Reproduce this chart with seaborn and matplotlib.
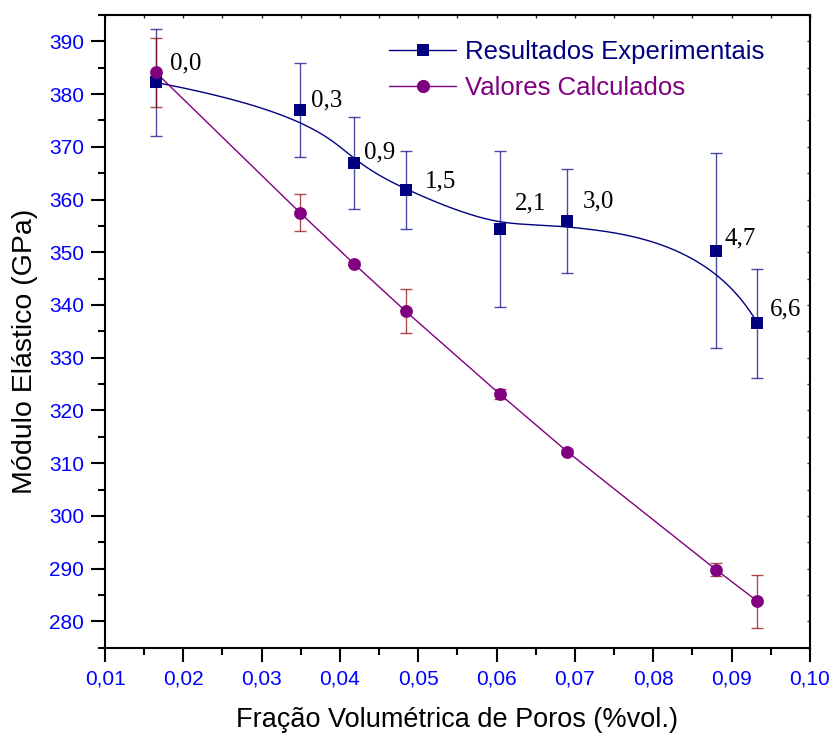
import numpy as np
import pandas as pd
import matplotlib
matplotlib.use('Agg')
import matplotlib.pyplot as plt
import seaborn as sns
from matplotlib.lines import Line2D
from matplotlib.ticker import MultipleLocator, FuncFormatter

# dados
porosidade = [0.0165, 0.0349, 0.0418, 0.0484, 0.0604, 0.0690, 0.0880, 0.0933]
rotulos = ['0,0', '0,3', '0,9', '1,5', '2,1', '3,0', '4,7', '6,6']
exp_modulo = [382.2, 377.0, 366.9, 361.8, 354.5, 355.9, 350.3, 336.5]
exp_erro = [10.2, 8.9, 8.7, 7.4, 14.8, 9.9, 18.5, 10.4]
calc_modulo = [384.1, 357.5, 347.8, 338.8, 323.1, 312.2, 289.8, 283.8]
calc_erro = [6.6, 3.5, 0.5, 4.2, 1.0, 0.5, 1.2, 5.0]

# deslocamento (pontos) dos rotulos em relacao aos pontos experimentais
rot_offset = [(10, 14), (8, 7), (7, 8), (14, 6), (11, 18), (11, 14), (6, 9), (9, 10)]

AZUL = '#000080'
ROXO = '#800080'


def bspline(px, py, n=400, k=3):
    # curva B-spline (como o "B-Spline" do Origin), pontos como controle
    m = len(px)
    knots = np.concatenate([np.zeros(k), np.arange(m - k + 1), np.full(k, m - k)]).astype(float)
    t = np.linspace(0, m - k, n)
    nb = len(knots) - 1
    N = np.zeros((n, nb))
    for i in range(nb):
        N[:, i] = (knots[i] <= t) & (t < knots[i + 1])
    last = np.where(knots[:-1] < knots[1:])[0][-1]
    N[t == knots[-1], last] = 1
    for d in range(1, k + 1):
        Nn = np.zeros((n, nb - d))
        for i in range(nb - d):
            a = knots[i + d] - knots[i]
            b = knots[i + d + 1] - knots[i + 1]
            left = (t - knots[i]) / a * N[:, i] if a > 0 else 0
            right = (knots[i + d + 1] - t) / b * N[:, i + 1] if b > 0 else 0
            Nn[:, i] = left + right
        N = Nn
    return N @ np.asarray(px), N @ np.asarray(py)


sns.set_theme(style='ticks')
plt.rcParams['font.family'] = ['Liberation Sans', 'DejaVu Sans']

fig, ax = plt.subplots(figsize=(8.34, 7.36), dpi=100)
fig.subplots_adjust(left=0.1259, right=0.9712, bottom=0.12, top=0.9796)

# curva suavizada dos resultados experimentais
sx, sy = bspline(porosidade, exp_modulo)
sns.lineplot(x=sx, y=sy, sort=False, estimator=None, color=AZUL, lw=1, ax=ax, zorder=3)
# linha dos valores calculados
sns.lineplot(x=porosidade, y=calc_modulo, sort=False, estimator=None, color=ROXO, lw=1, ax=ax, zorder=3)

ax.errorbar(porosidade, exp_modulo, yerr=exp_erro, fmt='none', ecolor=AZUL, alpha=0.7,
            elinewidth=1, capsize=4.5, capthick=1, zorder=2)
ax.errorbar(porosidade, calc_modulo, yerr=calc_erro, fmt='none', ecolor='#8b0000', alpha=0.7,
            elinewidth=1, capsize=4.5, capthick=1, zorder=2)

sns.scatterplot(x=porosidade, y=exp_modulo, marker='s', s=70, color=AZUL, edgecolor=AZUL,
                linewidth=0, ax=ax, zorder=4)
sns.scatterplot(x=porosidade, y=calc_modulo, marker='o', s=85, color=ROXO, edgecolor=ROXO,
                linewidth=0, ax=ax, zorder=4)

for x, y, r, off in zip(porosidade, exp_modulo, rotulos, rot_offset):
    ax.annotate(r, (x, y), xytext=off, textcoords='offset points', ha='left', va='center',
                fontsize=18, family=['Liberation Serif', 'DejaVu Serif'], color='black', zorder=5)

ax.set_xlim(0.01, 0.10)
ax.set_ylim(275, 395)
ax.xaxis.set_major_locator(MultipleLocator(0.01))
ax.xaxis.set_minor_locator(MultipleLocator(0.005))
ax.yaxis.set_major_locator(MultipleLocator(10))
ax.yaxis.set_minor_locator(MultipleLocator(5))
ax.xaxis.set_major_formatter(FuncFormatter(lambda v, p: f'{v:.2f}'.replace('.', ',')))
ax.yaxis.set_major_formatter(FuncFormatter(lambda v, p: f'{v:.0f}'))

ax.tick_params(which='major', direction='out', length=10, width=1.5, labelsize=15,
               labelcolor='#0000ff', color='black')
ax.tick_params(which='minor', direction='out', length=5, width=1.5, color='black')
ax.tick_params(axis='y', which='major', pad=5)
ax.tick_params(axis='x', which='major', pad=6)
for s in ax.spines.values():
    s.set_visible(True)
    s.set_linewidth(1.5)
    s.set_color('black')

top = ax.secondary_xaxis('top')
top.xaxis.set_major_locator(MultipleLocator(0.01))
top.xaxis.set_minor_locator(MultipleLocator(0.005))
top.tick_params(which='both', direction='in', length=2, width=1, labeltop=False)
right = ax.secondary_yaxis('right')
right.yaxis.set_major_locator(MultipleLocator(10))
right.yaxis.set_minor_locator(MultipleLocator(5))
right.tick_params(which='both', direction='in', length=2, width=1, labelright=False)

ax.set_xlabel('Fração Volumétrica de Poros (%vol.)', fontsize=19.5, color='black')
ax.xaxis.set_label_coords(0.5, -0.094)
ax.set_ylabel('Módulo Elástico (GPa)', fontsize=20.5, color='black')
ax.yaxis.set_label_coords(-0.095, 0.468)

handles = [
    Line2D([], [], color=AZUL, lw=1, marker='s', markersize=8.5, markeredgewidth=0),
    Line2D([], [], color=ROXO, lw=1, marker='o', markersize=9.5, markeredgewidth=0),
]
leg = ax.legend(handles, ['Resultados Experimentais', 'Valores Calculados'],
                loc='upper left', bbox_to_anchor=(0.403, 0.960), borderaxespad=0, borderpad=0,
                frameon=False, fontsize=18.5, handlelength=2.6, handletextpad=0.35,
                labelspacing=0.45, labelcolor=[AZUL, ROXO])

fig.savefig('out.png', dpi=100)
